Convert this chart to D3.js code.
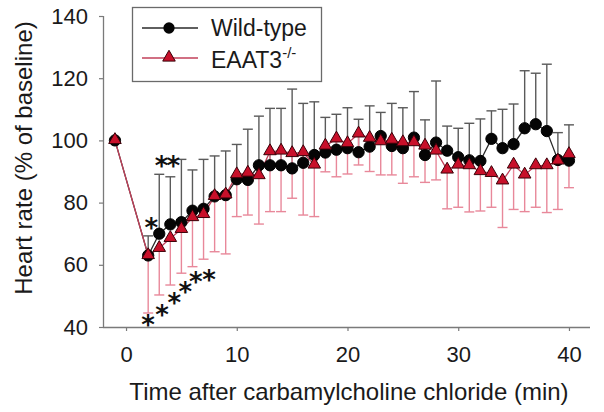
<!DOCTYPE html>
<html><head><meta charset="utf-8">
<script src="https://cdn.jsdelivr.net/npm/d3@7"></script>
<style>
html,body{margin:0;padding:0;background:#fff;}
text{font-family:Arial,"Liberation Sans",sans-serif;}
</style></head>
<body><svg id="chart" width="604" height="412"></svg>
<script>
// ---- data ----
const times = [-1,2,3,4,5,6,7,8,9,10,11,12,13,14,15,16,17,18,19,20,21,22,23,24,25,26,27,28,29,30,31,32,33,34,35,36,37,38,39,40];
const wtMean = [100,63,70,73,73.7,77.4,78,82,82.4,87.5,87.3,92,92,92,91,92.8,95.3,96.1,97,97.5,96.2,98,101.4,98.2,97.5,100.9,95.3,99.3,96.7,94.6,93.6,93.4,100.5,97.5,98.8,103.9,105.2,103,93.7,93.5];
const wtSE   = [0,6.3,19.1,15.3,20.2,13.1,15.9,13,14.2,11.2,16.3,15.8,18.3,18.3,25.5,19.1,17.1,11.3,11.4,13,10.6,13.1,7.6,13.7,13,14.8,11.3,19.8,7.9,9.3,11.9,13.5,9,12.5,12.9,18.5,16.4,21.5,8.8,11.5];
const koMean = [100,63,65.3,68.5,71.4,75.2,76.2,82,82.5,89,89.5,88.7,96.4,96.6,95.8,96.1,92.1,98.2,100.5,99,102.1,100.7,99.6,100.1,99.3,99.3,98.2,96.6,90.5,92.1,91.9,90,89.4,87,92.1,88.9,91.9,91.9,93.4,95.5];
const koSE   = [0,18.5,15,15,14.1,15.8,14.4,17.8,19,13.5,13.5,15.6,19.3,19.5,14.4,20.1,16.6,8.3,12.2,9.8,10,10.7,10.7,11.2,13.1,11,11.7,9.3,12.5,13.6,14.9,12.7,10.9,15,14.3,11.8,13.4,15.1,15.6,10.7];
const xTicks = [0,10,20,30,40];
const yTicks = [40,60,80,100,120,140];
const seriesNames = ["Wild-type","EAAT3"];
const wtStarT = [2.2, 3.65];
const wtStarV = [73.8, 93.7];
const wtStarLabel = ["*","**"];
const koStarT = [2, 3.25, 4.35, 5.35, 6.3, 7.5];
const koStarV = [42.6, 45.8, 49.6, 53.3, 56.4, 57.1];

// ---- drawing ----
const svg = d3.select("#chart");
const x = d3.scaleLinear().domain([-2.08, 41.9]).range([103, 590]);
const y = d3.scaleLinear().domain([40, 140]).range([327, 16]);
const axisColor = "#7a7a7a";

// axes
const gx = svg.append("g").attr("transform","translate(0,327)")
  .call(d3.axisBottom(x).tickValues(xTicks).tickSize(4).tickPadding(15).tickFormat(d3.format("d")));
const gy = svg.append("g").attr("transform","translate(103,0)")
  .call(d3.axisLeft(y).tickValues(yTicks).tickSize(4).tickPadding(11).tickFormat(d3.format("d")));
[gx,gy].forEach(g=>{
  g.select(".domain").attr("stroke",axisColor).attr("stroke-width",1.3);
  g.selectAll(".tick line").attr("stroke",axisColor).attr("stroke-width",1.2);
  g.selectAll(".tick text").attr("fill","#1a1a1a").style("font-size","22px").style("font-family","Arial, 'Liberation Sans', sans-serif");
});
gx.select(".domain").attr("d","M103,0.5H590");
gy.select(".domain").attr("d","M0.5,16V327");

// axis labels
svg.append("text").attr("x",349).attr("y",400).attr("text-anchor","middle")
  .attr("fill","#1a1a1a").style("font-size","24px").text("Time after carbamylcholine chloride (min)");
svg.append("text").attr("transform","translate(32,158) rotate(-90)").attr("text-anchor","middle")
  .attr("fill","#1a1a1a").style("font-size","24px").text("Heart rate (% of baseline)");

const wt = times.map((t,i)=>({t, m:wtMean[i], se:wtSE[i]}));
const ko = times.map((t,i)=>({t, m:koMean[i], se:koSE[i]}));
const capW = 5;

// WT error bars (upper)
const wtErr = svg.append("g").attr("stroke","#5a5a5a").attr("stroke-width",1.4).attr("fill","none");
wt.filter(d=>d.se>0).forEach(d=>{
  wtErr.append("line").attr("x1",x(d.t)).attr("x2",x(d.t)).attr("y1",y(d.m)).attr("y2",y(d.m+d.se));
  wtErr.append("line").attr("x1",x(d.t)-capW).attr("x2",x(d.t)+capW).attr("y1",y(d.m+d.se)).attr("y2",y(d.m+d.se));
});
// KO error bars (lower)
const koErr = svg.append("g").attr("stroke","#e8889a").attr("stroke-width",1.4).attr("fill","none");
ko.filter(d=>d.se>0).forEach(d=>{
  koErr.append("line").attr("x1",x(d.t)).attr("x2",x(d.t)).attr("y1",y(d.m)).attr("y2",y(d.m-d.se));
  koErr.append("line").attr("x1",x(d.t)-capW).attr("x2",x(d.t)+capW).attr("y1",y(d.m-d.se)).attr("y2",y(d.m-d.se));
});

// lines
const line = d3.line().x(d=>x(d.t)).y(d=>y(d.m));
svg.append("path").datum(wt).attr("d",line).attr("fill","none").attr("stroke","#2a2a2a").attr("stroke-width",1.3);
svg.append("path").datum(ko).attr("d",line).attr("fill","none").attr("stroke","#c2405a").attr("stroke-width",1.3);

// markers
const circ = d3.symbol().type(d3.symbolCircle).size(100);
const tri = d3.symbol().type(d3.symbolTriangle).size(68);
svg.append("g").selectAll("path").data(wt).join("path")
  .attr("d",circ).attr("transform",d=>`translate(${x(d.t)},${y(d.m)})`)
  .attr("fill","#050505").attr("stroke","#000").attr("stroke-width",1);
svg.append("g").selectAll("path").data(ko).join("path")
  .attr("d",tri).attr("transform",d=>`translate(${x(d.t)},${y(d.m)-0.5})`)
  .attr("fill","#c8102a").attr("stroke","#3a0008").attr("stroke-width",1);

// significance stars
const starSize = 26;
const starFont = "'DejaVu Sans', sans-serif";
svg.append("g").selectAll("text").data(wtStarT).join("text")
  .attr("x",(d)=>x(d)).attr("y",(d,i)=>y(wtStarV[i])+starSize*0.59)
  .attr("text-anchor","middle").attr("fill","#111")
  .style("font-family",starFont).style("font-weight","bold").style("font-size",starSize+"px")
  .style("letter-spacing","-2px")
  .text((d,i)=>wtStarLabel[i]);
svg.append("g").selectAll("text").data(koStarT).join("text")
  .attr("x",(d)=>x(d)).attr("y",(d,i)=>y(koStarV[i])+starSize*0.59)
  .attr("text-anchor","middle").attr("fill","#111")
  .style("font-family",starFont).style("font-weight","bold").style("font-size",starSize+"px")
  .text("*");

// legend
const lg = svg.append("g");
lg.append("rect").attr("x",132.5).attr("y",7.5).attr("width",189).attr("height",74)
  .attr("fill","#fff").attr("stroke","#6a6a6a").attr("stroke-width",1.3);
lg.append("line").attr("x1",142).attr("x2",198).attr("y1",28).attr("y2",28).attr("stroke","#2a2a2a").attr("stroke-width",1.3);
lg.append("path").attr("d",circ).attr("transform","translate(169,28)").attr("fill","#050505");
lg.append("line").attr("x1",142).attr("x2",198).attr("y1",58).attr("y2",58).attr("stroke","#c2405a").attr("stroke-width",1.3);
lg.append("path").attr("d",tri).attr("transform","translate(169,57.5)").attr("fill","#c8102a").attr("stroke","#3a0008");
lg.append("text").attr("x",211).attr("y",36).attr("fill","#1a1a1a").style("font-size","23px").text(seriesNames[0]);
const t2 = lg.append("text").attr("x",211).attr("y",68).attr("fill","#1a1a1a").style("font-size","23px");
t2.append("tspan").text(seriesNames[1]);
t2.append("tspan").attr("dy",-10).style("font-size","15px").text("-/-");
</script></body></html>
